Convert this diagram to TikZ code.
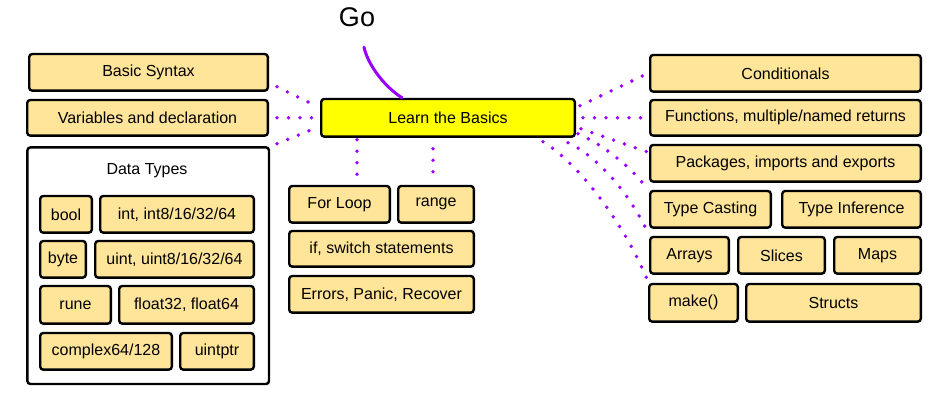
\documentclass[tikz,border=0pt]{standalone}
\usepackage{fontspec}
\setmainfont{Liberation Sans}
\definecolor{boxfill}{HTML}{FFE599}
\definecolor{hlyellow}{HTML}{FFFF00}
\definecolor{gopurple}{HTML}{9900FF}
\tikzset{
  box/.style={draw=black, line width=2.4pt, rounded corners=3pt, fill=boxfill, inner sep=0pt,
    font=\fontsize{16}{19}\selectfont},
  mainbox/.style={box, fill=hlyellow},
  groupbox/.style={box, fill=white},
  dotline/.style={draw=gopurple, line width=3.8pt, line cap=round, dash pattern=on 0pt off 11.5pt},
  golink/.style={draw=gopurple, line width=3pt, line cap=round},
}
\newcommand\bx[7][box]{\node[#1, minimum width={#5pt-#3pt-2.4pt}, minimum height={#6pt-#4pt-2.4pt}] (#2) at ({(#3+#5)/2},{(#4+#6)/2+0.8}) {#7};}
\begin{document}
\begin{tikzpicture}[x=1pt,y=-1pt]
\useasboundingbox (0,0) rectangle (948,411);
% left column
\bx{basic}{28}{52}{269}{91}{Basic Syntax}
\bx{vars}{26}{98}{269}{136}{Variables and declaration}
\node[groupbox, minimum width=241.6pt, minimum height=236.6pt, anchor=north west] (dtypes) at (26.2,146.2) {};
\node[font=\fontsize{16}{19}\selectfont] (dtitle) at (147,171) {Data Types};
\bx{bool}{39}{194}{93}{233}{bool}
\bx{int}{99}{194}{255}{233}{int, int8/16/32/64}
\bx{byte}{39}{239}{87}{278}{byte}
\bx{uint}{94}{239}{255}{278}{uint, uint8/16/32/64}
\bx{rune}{39}{284}{112}{324}{rune}
\bx{float}{118}{284}{255}{324}{float32, float64}
\bx{complex}{39}{331}{173}{370}{complex64/128}
\bx{uintptr}{179}{331}{255}{370}{uintptr}
% centre
\bx[mainbox]{learn}{320}{97}{576}{137}{Learn the Basics}
\node[font=\fontsize{27}{30}\selectfont] (go) at (357,17) {Go};
\bx{forloop}{288}{184}{391}{223}{For Loop}
\bx{range}{397}{184}{475}{223}{range}
\bx{ifsw}{288}{229}{475}{267}{if, switch statements}
\bx{errors}{288}{274}{475}{313}{Errors, Panic, Recover}
% right column
\bx{cond}{649}{53}{922}{92}{Conditionals}
\bx{func}{649}{98}{922}{136}{Functions, multiple/named returns}
\bx{pkgs}{649}{143}{922}{182}{Packages, imports and exports}
\bx{tcast}{649}{189}{772}{228}{Type Casting}
\bx{tinf}{781}{189}{922}{228}{Type Inference}
\bx{arrays}{649}{235}{730}{274}{Arrays}
\bx{slices}{737}{235}{826}{274}{Slices}
\bx{maps}{833}{235}{922}{274}{Maps}
\bx{make}{648}{282}{739}{322}{make()}
\bx{structs}{745}{282}{922}{322}{Structs}
% Go link
\draw[golink] ([shift={(7,17)}]go.south) .. controls (367,62) and (382,85) .. ([shift={(-46,0)}]learn.north);
% left dotted
\draw[dotline] ([shift={(8,-5)}]basic.south east) -- ([shift={(-6,-13)}]learn.west);
\draw[dotline] ([shift={(8,0)}]vars.east) -- ([shift={(-6,0)}]learn.west);
\draw[dotline] ([shift={(8,7)}]vars.south east) -- ([shift={(-6,11)}]learn.west);
% down dotted
\draw[dotline] ([shift={(-91,2)}]learn.south) -- ([shift={(17.5,-5)}]forloop.north);
\draw[dotline] ([shift={(-15,11)}]learn.south) -- ([shift={(-3,-9)}]range.north);
% right dotted
\draw[dotline] ([shift={(4,-12)}]learn.east) -- ([shift={(-1,0)}]cond.west);
\draw[dotline] ([shift={(7,0)}]learn.east) -- ([shift={(-2,0)}]func.west);
\draw[dotline] ([shift={(5,11)}]learn.east) -- ([shift={(-2,8)}]pkgs.north west);
\draw[dotline] ([shift={(2,-4)}]learn.south east) .. controls (600,143) and (630,165) .. ([shift={(-1,0)}]tcast.north west);
\draw[dotline] ([shift={(-8,5)}]learn.south east) .. controls (590,152) and (625,185) .. ([shift={(-2,2)}]tcast.south west);
\draw[dotline] ([shift={(-33,4)}]learn.south east) .. controls (578,163) and (624,222) .. ([shift={(1,1)}]make.north west);
\end{tikzpicture}
\end{document}
